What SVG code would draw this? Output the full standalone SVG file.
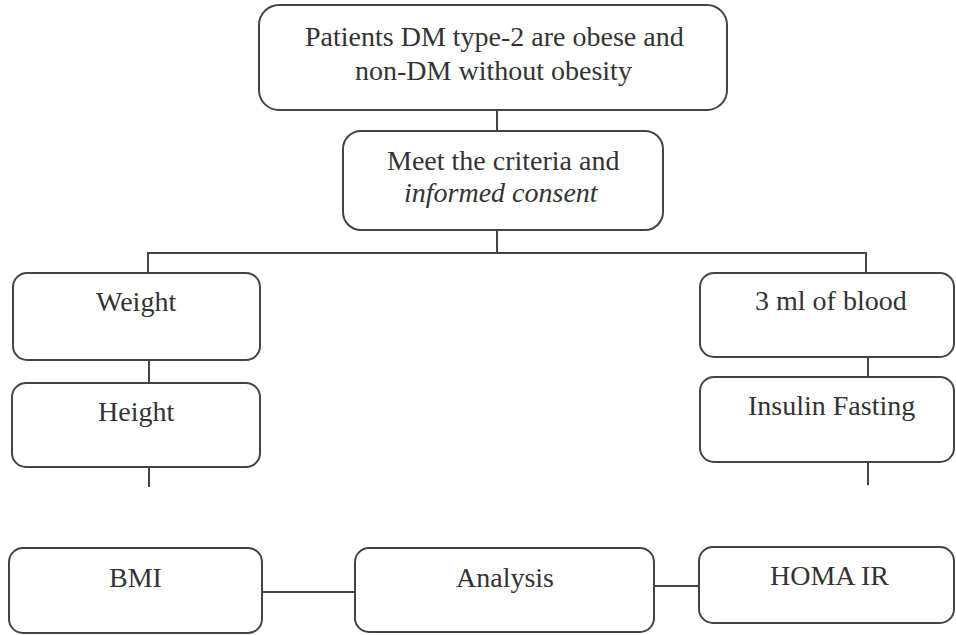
<svg xmlns="http://www.w3.org/2000/svg" width="956" height="635" viewBox="0 0 956 635">
<defs>
<rect id="dummy" width="0" height="0"/>
</defs>
<rect width="956" height="635" fill="#fff"/>
<g id="connectors" fill="none" stroke="#444" stroke-width="2">
<path d="M497 110V131"/>
<path d="M497 230V254"/>
<path d="M148 273V253H866V273"/>
<path d="M149 360V383"/>
<path d="M149 462V487"/>
<path d="M868 356V377"/>
<path d="M868 460V485"/>
<path d="M261 592H362"/>
<path d="M655 586H699"/>
</g>
<g id="n1"><rect x="259" y="5" width="468" height="105" rx="20" fill="#fff" stroke="#444" stroke-width="2"/>
<text x="305" y="46" font-family="Liberation Serif" font-size="28" fill="#333">Patients DM type-2 are obese and</text>
<text x="355" y="80" font-family="Liberation Serif" font-size="28" fill="#333">non-DM without obesity</text></g>
<g id="n2"><rect x="343" y="131" width="320" height="99" rx="18" fill="#fff" stroke="#444" stroke-width="2"/>
<text x="387" y="170" font-family="Liberation Serif" font-size="28" fill="#333">Meet the criteria and</text>
<text x="404" y="202" font-family="Liberation Serif" font-size="28" fill="#333" font-style="italic">informed consent</text></g>
<g id="n3"><rect x="13" y="273" width="247" height="87" rx="14" fill="#fff" stroke="#444" stroke-width="2"/>
<text x="96" y="311" font-family="Liberation Serif" font-size="28" fill="#333">Weight</text></g>
<g id="n4"><rect x="12" y="383" width="248" height="84" rx="14" fill="#fff" stroke="#444" stroke-width="2"/>
<text x="98" y="421" font-family="Liberation Serif" font-size="28" fill="#333">Height</text></g>
<g id="n5"><rect x="700" y="273" width="254" height="84" rx="14" fill="#fff" stroke="#444" stroke-width="2"/>
<text x="755" y="310" font-family="Liberation Serif" font-size="28" fill="#333">3 ml of blood</text></g>
<g id="n6"><rect x="700" y="377" width="254" height="85" rx="14" fill="#fff" stroke="#444" stroke-width="2"/>
<text x="748" y="415" font-family="Liberation Serif" font-size="28" fill="#333">Insulin Fasting</text></g>
<g id="n7"><rect x="9" y="548" width="253" height="85" rx="14" fill="#fff" stroke="#444" stroke-width="2"/>
<text x="109" y="587" font-family="Liberation Serif" font-size="28" fill="#333">BMI</text></g>
<g id="n8"><rect x="355" y="548" width="299" height="84" rx="14" fill="#fff" stroke="#444" stroke-width="2"/>
<text x="456" y="587" font-family="Liberation Serif" font-size="28" fill="#333">Analysis</text></g>
<g id="n9"><rect x="699" y="547" width="255" height="76" rx="14" fill="#fff" stroke="#444" stroke-width="2"/>
<text x="770" y="585" font-family="Liberation Serif" font-size="28" fill="#333">HOMA IR</text></g>
</svg>
